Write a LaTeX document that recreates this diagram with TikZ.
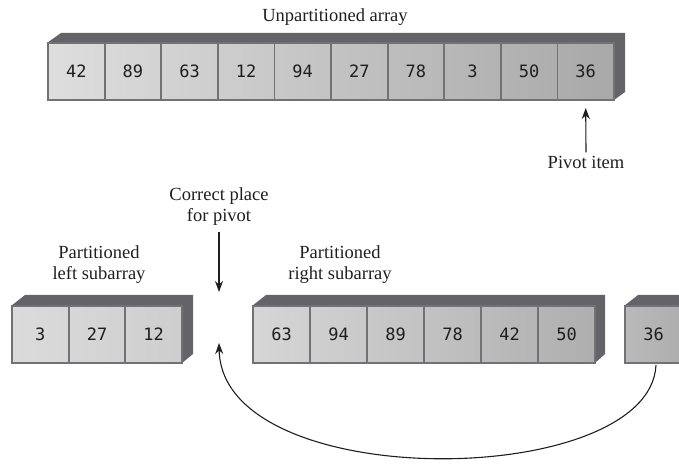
\documentclass[tikz,border=0pt]{standalone}
\usepackage{fontspec}
\setmainfont{Liberation Serif}
\newfontfamily\monof{DejaVu Sans Mono}
\usetikzlibrary{arrows.meta}
\definecolor{sidedark}{HTML}{646468}
\definecolor{cellline}{HTML}{727276}
\definecolor{numtext}{HTML}{1E1E1E}
\tikzset{
  cell/.style={draw=cellline, line width=1.8bp, minimum width=#1, minimum height=57bp, inner sep=0pt,
    font=\monof\fontsize{17bp}{19bp}\selectfont, text=numtext},
  boxback/.style={fill=sidedark, draw=none},
  lab/.style={font=\fontsize{18.5bp}{21bp}\selectfont, align=center, text=black!88},
  arr/.style={-{Stealth[length=11bp,width=8bp]}, line width=1.1bp, black!88}
}
\begin{document}
\begin{tikzpicture}[x=1bp,y=-1bp]
\useasboundingbox (0,0) rectangle (679,473);
% ---------- top array
\fill[boxback] (47,43) -- (61,33) -- (625,33) -- (625,92) -- (614,100) -- cycle;
\foreach \v [count=\i] in {42,89,63,12,94,27,78,3,50,36}{
  \pgfmathsetmacro\lc{13+2.1*(\i-1)}
  \pgfmathsetmacro\rc{13+2.1*\i}
  \node[cell=56.6bp, left color=black!\lc, right color=black!\rc] (t\i) at ({48+(\i-0.5)*56.6},71.5) {\v};
}
\node[lab] (ttl) at (335,17) {Unpartitioned array};
\node[lab] (piv) at (586,162) {Pivot item};
\draw[arr] (piv.north) -- (t10.south |- 0,108);
% ---------- left subarray
\fill[boxback] (11,306) -- (25,295) -- (193,295) -- (193,354) -- (182,363) -- cycle;
\foreach \v [count=\i] in {3,27,12}{
  \pgfmathsetmacro\lc{14+1.8*(\i-1)}
  \pgfmathsetmacro\rc{14+1.8*\i}
  \node[cell=56.67bp, left color=black!\lc, right color=black!\rc] (l\i) at ({12+(\i-0.5)*56.67},334.5) {\v};
}
\node[lab] (llab) at (99,265) {Partitioned\\left subarray};
% ---------- right subarray
\fill[boxback] (252,306) -- (266,295) -- (605,295) -- (605,354) -- (595,363) -- cycle;
\foreach \v [count=\i] in {63,94,89,78,42,50}{
  \pgfmathsetmacro\lc{16+2.6*(\i-1)}
  \pgfmathsetmacro\rc{16+2.6*\i}
  \node[cell=57bp, left color=black!\lc, right color=black!\rc] (r\i) at ({253+(\i-0.5)*57},334.5) {\v};
}
\node[lab] (rlab) at (340,265) {Partitioned\\right subarray};
% ---------- pivot box
\fill[boxback] (624,306) -- (638,295) -- (700,295) -- (700,363) -- cycle;
\node[cell=57bp, left color=black!27, right color=black!32] (p1) at (653.5,334.5) {36};
% ---------- correct place
\node[lab] (cp) at (219,207) {Correct place\\for pivot};
\coordinate (gapTop) at (219,292);
\coordinate (gapBot) at (219,343);
\draw[arr] (219,232) -- (gapTop);
\draw[arr] (656,365) .. controls (650,490) and (222,495) .. (gapBot);
\end{tikzpicture}
\end{document}
